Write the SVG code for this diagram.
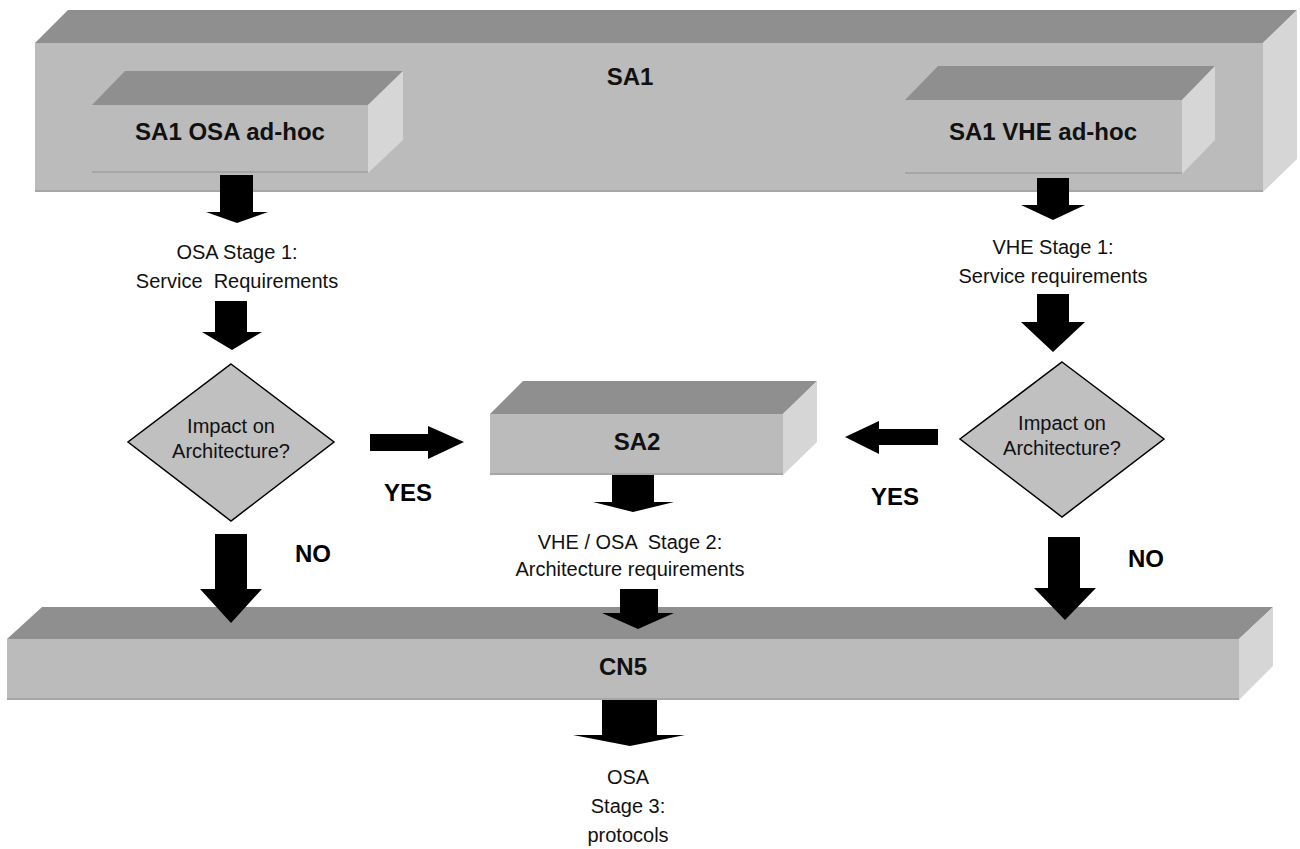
<svg xmlns="http://www.w3.org/2000/svg" width="1300" height="849" viewBox="0 0 1300 849">
<style>
.top{fill:#8f8f8f}
.front{fill:#bbbbbb}
.side{fill:#d6d6d6}
.edge{stroke:#a6a6a6;stroke-width:2}
.hl{stroke:#c9c9c9;stroke-width:1}
.dia{fill:#c0c0c0;stroke:#000;stroke-width:1.5}
.arr{fill:#000}
text{font-family:"Liberation Sans",Arial,sans-serif;fill:#111;text-anchor:middle}
.t{font-size:20px}
.b{font-size:24px;font-weight:bold}
.yn{font-size:24px;font-weight:bold;fill:#000}
</style>
<rect width="1300" height="849" fill="#fff"/>
<g id="SA1">
<polygon class="top" points="35,43 68,10 1297,10 1263,43"/>
<rect class="front" x="35" y="43" width="1228" height="149"/>
<polygon class="side" points="1263,43 1297,10 1297,159 1263,192"/>
<line class="edge" x1="35" y1="191" x2="1263" y2="191"/>
<text class="b" x="630" y="85">SA1</text>
</g>
<g id="SA1-OSA">
<polygon class="top" points="92,105 125,71 403,71 368,105"/>
<rect class="front" x="92" y="105" width="276" height="68"/>
<polygon class="side" points="368,105 403,71 403,140 368,173"/>
<line class="edge" x1="92" y1="172" x2="368" y2="172"/>
<text class="b" x="230" y="140">SA1 OSA ad-hoc</text>
</g>
<g id="SA1-VHE">
<polygon class="top" points="905,100 938,66 1215,66 1182,100"/>
<rect class="front" x="905" y="100" width="277" height="74"/>
<polygon class="side" points="1182,100 1215,66 1215,140 1182,174"/>
<line class="edge" x1="905" y1="173" x2="1182" y2="173"/>
<text class="b" x="1043" y="140">SA1 VHE ad-hoc</text>
</g>
<g id="osa-stage1">
<text class="t" x="237" y="259">OSA Stage 1:</text>
<text class="t" x="237" y="288" xml:space="preserve">Service  Requirements</text>
</g>
<g id="vhe-stage1">
<text class="t" x="1053" y="254">VHE Stage 1:</text>
<text class="t" x="1053" y="283">Service requirements</text>
</g>
<g id="decision-left">
<polygon class="dia" points="231,364 334,442 231,521 128,442"/>
<text class="t" x="231" y="433">Impact on</text>
<text class="t" x="231" y="458">Architecture?</text>
</g>
<g id="decision-right">
<polygon class="dia" points="1062,362 1164,439 1062,517 960,439"/>
<text class="t" x="1062" y="430">Impact on</text>
<text class="t" x="1062" y="455">Architecture?</text>
</g>
<g id="SA2">
<polygon class="top" points="490,414 523,381 817,381 783,414"/>
<rect class="front" x="490" y="414" width="293" height="61"/>
<polygon class="side" points="783,414 817,381 817,442 783,475"/>
<line class="edge" x1="490" y1="474" x2="783" y2="474"/>
<text class="b" x="637" y="450">SA2</text>
</g>
<g id="stage2">
<text class="t" x="630" y="549" xml:space="preserve">VHE / OSA  Stage 2:</text>
<text class="t" x="630" y="576">Architecture requirements</text>
</g>
<g id="CN5">
<polygon class="top" points="7,639 42,607 1273,607 1239,639"/>
<rect class="front" x="7" y="639" width="1232" height="61"/>
<polygon class="side" points="1239,639 1273,607 1273,666 1239,700"/>
<line class="edge" x1="7" y1="699" x2="1239" y2="699"/>
<text class="b" x="623" y="675">CN5</text>
</g>
<g id="stage3">
<text class="t" x="628" y="784">OSA</text>
<text class="t" x="628" y="813">Stage 3:</text>
<text class="t" x="628" y="842">protocols</text>
</g>
<g id="connectors">
<polygon class="arr" points="220,175 253,175 253,212 268,212 237,223 206,212 220,212"/>
<polygon class="arr" points="215,301 247,301 247,332 262,332 232,350 202,332 215,332"/>
<polygon class="arr" points="1037,178 1069,178 1069,205 1085,205 1053,220 1021,205 1037,205"/>
<polygon class="arr" points="1037,294 1069,294 1069,322 1085,322 1053,352 1021,322 1037,322"/>
<polygon class="arr" points="370,434 428,434 428,426 464,442 428,459 428,451 370,451"/>
<polygon class="arr" points="938,429 879,429 879,421 845,437 879,454 879,445 938,445"/>
<polygon class="arr" points="612,475 654,475 654,502 674,502 633,512 593,502 612,502"/>
<polygon class="arr" points="215,534 247,534 247,589 262,589 231,623 200,589 215,589"/>
<polygon class="arr" points="1048,537 1080,537 1080,588 1096,588 1065,620 1034,588 1048,588"/>
<polygon class="arr" points="620,589 658,589 658,613 674,613 638,629 602,613 620,613"/>
<polygon class="arr" points="602,700 657,700 657,735 685,735 630,746 573,735 602,735"/>
<text class="yn" x="408" y="501">YES</text>
<text class="yn" x="895" y="505">YES</text>
<text class="yn" x="313" y="562">NO</text>
<text class="yn" x="1146" y="567">NO</text>
</g>
</svg>
